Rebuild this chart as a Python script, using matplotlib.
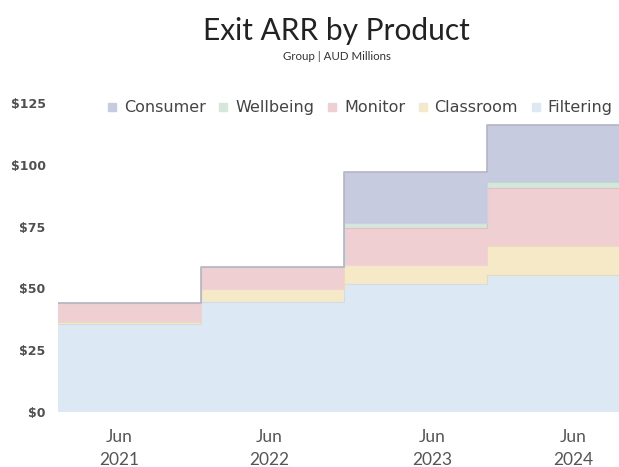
import numpy as np
import matplotlib
matplotlib.use("Agg")
import matplotlib.pyplot as plt
from matplotlib.lines import Line2D

# data (AUD millions, exit ARR per year)
years = ["2021", "2022", "2023", "2024"]
products = ["Filtering", "Classroom", "Monitor", "Wellbeing", "Consumer"]
filtering = [35.5, 44.6, 51.7, 55.4]
classroom = [1.0, 5.0, 7.8, 11.8]
monitor = [7.5, 9.2, 14.8, 23.5]
wellbeing = [0.0, 0.0, 2.0, 2.5]
consumer = [0.0, 0.0, 20.9, 22.9]
yticks = [0, 25, 50, 75, 100, 125]

fills = ["#dce9f4", "#f5e9c8", "#f0cfd3", "#d3e8da", "#c6cbe0"]
edges = ["#cfdcea", "#e9dcb8", "#e3bfc4", "#c2dacb", "#aeb3cc"]

fig = plt.figure(figsize=(6.19, 4.67), dpi=100)
ax = fig.add_axes([58 / 619, 55 / 467, 561 / 619, 321.4 / 467])

series = [filtering, classroom, monitor, wellbeing, consumer]
x = np.arange(len(years) + 1)
base = np.zeros(len(years))
for vals, fc, ec in zip(series, fills, edges):
    top = base + np.array(vals)
    b = np.append(base, base[-1])
    t = np.append(top, top[-1])
    ax.fill_between(x, b, t, step="post", color=fc, lw=0, zorder=2)
    base = top

# outline along the total
tot = np.append(base, base[-1])
ax.step(x, tot, where="post", color="#b4b4c8", lw=1.2, zorder=3)
# thin boundaries between layers
base = np.zeros(len(years))
for vals, ec in zip(series[:-1], edges[:-1]):
    base = base + np.array(vals)
    ax.step(x, np.append(base, base[-1]), where="post", color=ec, lw=0.8, zorder=2.5)

ax.set_xlim(0, 561 / 143)
ax.set_ylim(0, 130)
ax.set_yticks(yticks)
ax.set_yticklabels(["$%d" % v for v in yticks], fontsize=9, color="#505050",
                   fontweight="bold", family="DejaVu Sans")
# x labels sit off-centre in the original
ax.set_xticks([0.43, 1.48, 2.62, 3.60])
ax.set_xticklabels(["Jun\n" + y for y in years], fontsize=12.5, color="#555555",
                   family="Lato", linespacing=1.55)
ax.tick_params(length=0, pad=12, axis="x")
ax.tick_params(length=0, pad=9, axis="y")
for s in ax.spines.values():
    s.set_visible(False)

handles = [Line2D([], [], marker="s", ls="", color=c, markersize=6)
           for c in fills[::-1]]
leg = ax.legend(handles, products[::-1], ncol=5, loc="upper right",
                bbox_to_anchor=(1.0, 0.99), frameon=False, fontsize=11.5,
                handletextpad=0.35, columnspacing=0.7, handlelength=0.8,
                borderaxespad=0)
for t in leg.get_texts():
    t.set_color("#444444")

fig.text(336 / 619, 1 - 31 / 467, "Exit ARR by Product", ha="center", va="center",
         fontsize=21.5, family="Lato", color="#222222")
fig.text(337 / 619, 1 - 56 / 467, "Group | AUD Millions", ha="center", va="center",
         fontsize=8.3, family="Lato", color="#333333")

fig.savefig("out.png", dpi=100)
